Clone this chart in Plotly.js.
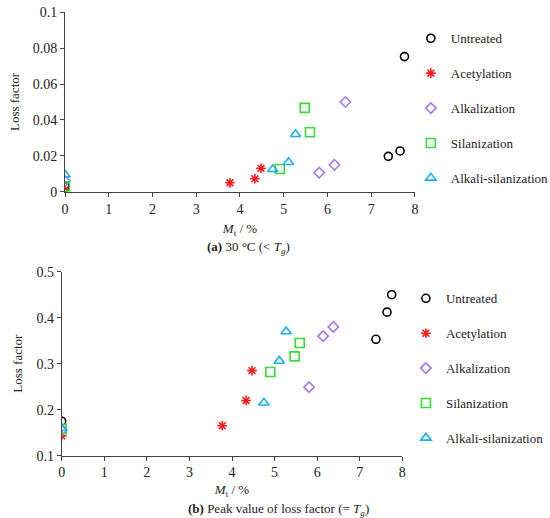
<!DOCTYPE html>
<html>
<head>
<meta charset="utf-8">
<script src="https://cdn.plot.ly/plotly-3.0.1.min.js"></script>
<style>html,body{margin:0;padding:0;background:#fff;}#chart{width:550px;height:518px;}</style>
</head>
<body>
<div id="chart"></div>
<script>
// Series names
const seriesNames = ["Untreated", "Acetylation", "Alkalization", "Silanization", "Alkali-silanization"];

// (a) 30 °C
const aUntreatedX = [0, 7.39, 7.66, 7.76];
const aUntreatedY = [0.003, 0.0197, 0.0227, 0.0753];
const aAcetylX = [0, 3.77, 4.34, 4.48];
const aAcetylY = [0.001, 0.005, 0.0072, 0.013];
const aAlkalX = [0, 5.81, 6.16, 6.41];
const aAlkalY = [0.006, 0.0106, 0.015, 0.050];
const aSilanX = [0, 4.91, 5.48, 5.60];
const aSilanY = [0.003, 0.0127, 0.0467, 0.0331];
const aAlkSilX = [0, 4.75, 5.11, 5.27];
const aAlkSilY = [0.0095, 0.0125, 0.0164, 0.032];

// (b) Peak value
const bUntreatedX = [0, 7.38, 7.64, 7.75];
const bUntreatedY = [0.175, 0.353, 0.412, 0.450];
const bAcetylX = [0, 3.77, 4.33, 4.47];
const bAcetylY = [0.143, 0.165, 0.220, 0.285];
const bAlkalX = [0, 5.81, 6.14, 6.38];
const bAlkalY = [0.155, 0.249, 0.360, 0.380];
const bSilanX = [0, 4.90, 5.47, 5.59];
const bSilanY = [0.158, 0.282, 0.316, 0.345];
const bAlkSilX = [0, 4.75, 5.11, 5.27];
const bAlkSilY = [0.160, 0.215, 0.306, 0.370];

const xTicks = [0, 1, 2, 3, 4, 5, 6, 7, 8];
const aYTicks = [0, 0.02, 0.04, 0.06, 0.08, 0.1];
const bYTicks = [0.1, 0.2, 0.3, 0.4, 0.5];

const styles = [
  {symbol: "circle-open", color: "#000000", size: 8},
  {symbol: "asterisk-open", color: "#ff1a1a", size: 8},
  {symbol: "diamond-open", color: "#a878f0", size: 8},
  {symbol: "square-open", color: "#33dd33", size: 9},
  {symbol: "triangle-up-open", color: "#1ab0f0", size: 9}
];

const aX = [aUntreatedX, aAcetylX, aAlkalX, aSilanX, aAlkSilX];
const aY = [aUntreatedY, aAcetylY, aAlkalY, aSilanY, aAlkSilY];
const bX = [bUntreatedX, bAcetylX, bAlkalX, bSilanX, bAlkSilX];
const bY = [bUntreatedY, bAcetylY, bAlkalY, bSilanY, bAlkSilY];

const traces = [];
for (let i = 0; i < 5; i++) {
  traces.push({
    x: aX[i], y: aY[i], type: "scatter", mode: "markers", name: seriesNames[i],
    xaxis: "x", yaxis: "y", legend: "legend", legendgroup: "a" + i,
    marker: {symbol: styles[i].symbol, size: styles[i].size, color: styles[i].color,
             line: {color: styles[i].color, width: 1.6}}
  });
}
for (let i = 0; i < 5; i++) {
  traces.push({
    x: bX[i], y: bY[i], type: "scatter", mode: "markers", name: seriesNames[i],
    xaxis: "x2", yaxis: "y2", legend: "legend2", legendgroup: "b" + i,
    marker: {symbol: styles[i].symbol, size: styles[i].size, color: styles[i].color,
             line: {color: styles[i].color, width: 1.6}}
  });
}

const FAM = "'Liberation Serif', 'DejaVu Serif', serif";
const f13 = {family: FAM, size: 13, color: "#222"};
const fTick = {family: FAM, size: 14, color: "#222"};
const axisCommon = {
  showgrid: false, zeroline: false, showline: true, linecolor: "#444", linewidth: 1,
  ticks: "outside", ticklen: 4, tickcolor: "#444", tickfont: fTick, mirror: false,
  automargin: false
};

const layout = {
  width: 550, height: 518,
  margin: {l: 0, r: 0, t: 0, b: 0, autoexpand: false},
  paper_bgcolor: "#fff", plot_bgcolor: "#fff",
  font: f13,
  showlegend: true,
  xaxis: Object.assign({}, axisCommon, {
    domain: [0.1182, 0.7545], range: [0, 8], tickvals: xTicks, anchor: "y",
    title: {text: "<i>M</i><sub>t</sub> / %", font: f13, standoff: 8}
  }),
  yaxis: Object.assign({}, axisCommon, {
    domain: [0.6299, 0.9763], range: [0, 0.1], tickvals: aYTicks, anchor: "x",
    title: {text: "Loss factor", font: f13, standoff: 10}
  }),
  xaxis2: Object.assign({}, axisCommon, {
    domain: [0.1122, 0.7315], range: [0, 8], tickvals: xTicks, anchor: "y2",
    title: {text: "<i>M</i><sub>t</sub> / %", font: f13, standoff: 5}
  }),
  yaxis2: Object.assign({}, axisCommon, {
    domain: [0.1203, 0.4755], range: [0.1, 0.5], tickvals: bYTicks, anchor: "x2",
    title: {text: "Loss factor", font: f13, standoff: 10}
  }),
  legend: {
    x: 0.747, xanchor: "left", y: 0.955, yanchor: "top",
    tracegroupgap: 15, itemwidth: 30, font: f13, bgcolor: "rgba(0,0,0,0)"
  },
  legend2: {
    x: 0.738, xanchor: "left", y: 0.453, yanchor: "top",
    tracegroupgap: 15, itemwidth: 30, font: f13, bgcolor: "rgba(0,0,0,0)"
  },
  annotations: [
    {text: "<b>(a)</b> 30 °C (< <i>T</i><sub><i>g</i></sub>)", xref: "paper", yref: "paper",
     x: 248 / 550, y: 1 - 248 / 518, yanchor: "middle", showarrow: false, font: f13},
    {text: "<b>(b)</b> Peak value of loss factor (= <i>T</i><sub><i>g</i></sub>)", xref: "paper", yref: "paper",
     x: 278 / 550, y: 1 - 509 / 518, yanchor: "middle", showarrow: false, font: f13}
  ]
};

Plotly.newPlot("chart", traces, layout, {displayModeBar: false, staticPlot: true});
</script>
</body>
</html>
